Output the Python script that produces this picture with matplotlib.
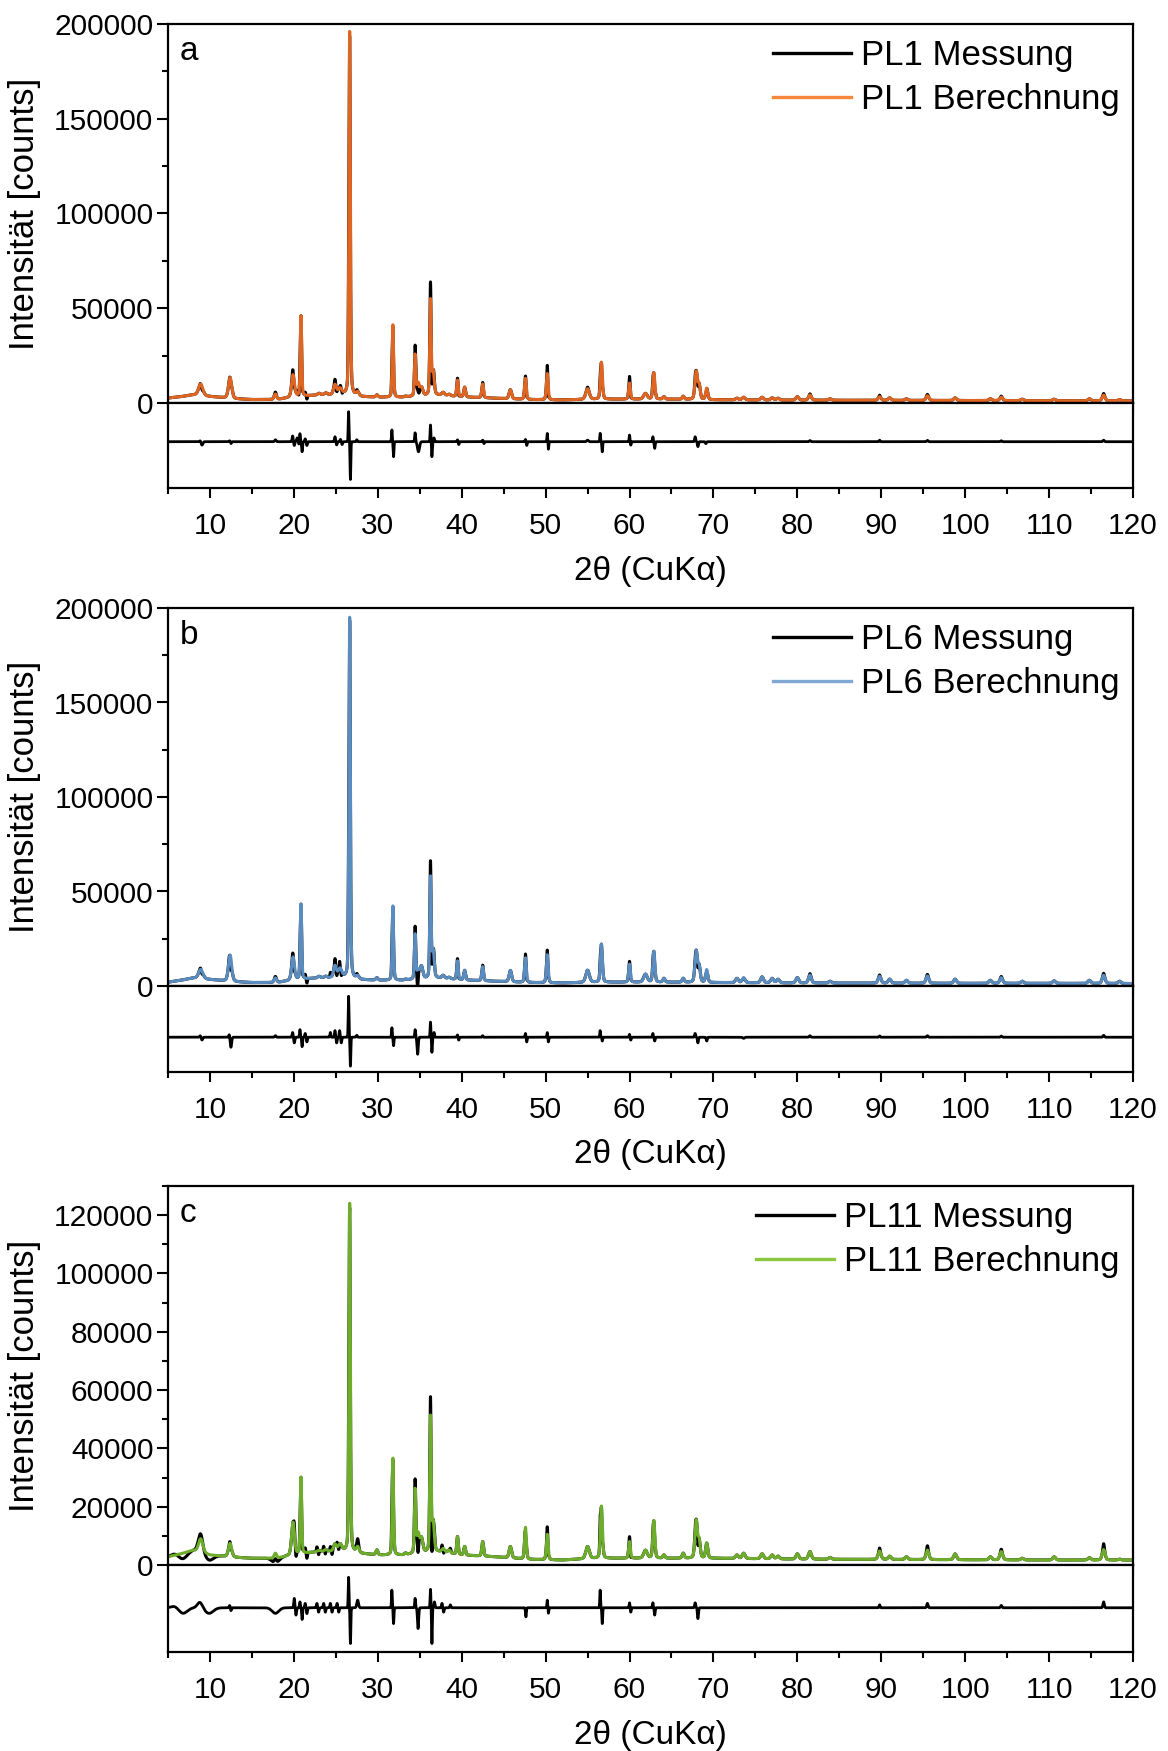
import numpy as np
import matplotlib.pyplot as plt
from matplotlib.lines import Line2D
from matplotlib.ticker import MultipleLocator

plt.rcParams['font.family'] = ['Liberation Sans', 'DejaVu Sans']
plt.rcParams['axes.linewidth'] = 1.6

# reflex positions (2theta) shared by all three samples, with FWHM
peak_pos = [8.9, 12.4, 17.8, 19.9, 20.85, 23.0, 23.8, 24.9, 25.5, 26.65,
            27.6, 29.9, 31.8, 33.3, 34.45, 34.8, 35.2, 36.28, 36.6, 37.8,
            38.5, 39.5, 40.35, 42.5, 45.8, 47.6, 50.2, 55.0, 56.65, 60.0,
            61.9, 62.9, 64.1, 66.4, 67.95, 68.3, 69.2, 72.8, 73.6, 75.8,
            77.0, 77.7, 80.0, 81.5, 83.9, 89.8, 91.0, 93.0, 95.5, 98.8,
            103.0, 104.3, 106.8, 110.6, 114.8, 116.5, 118.4]
peak_fwhm = [0.6, 0.45, 0.35, 0.4, 0.2, 0.4, 0.4, 0.4, 0.5, 0.2,
             0.4, 0.3, 0.2, 0.3, 0.2, 0.35, 0.4, 0.2, 0.3, 0.4,
             0.4, 0.22, 0.25, 0.25, 0.35, 0.25, 0.25, 0.5, 0.28, 0.25,
             0.5, 0.28, 0.3, 0.3, 0.35, 0.3, 0.3, 0.4, 0.4, 0.4,
             0.4, 0.4, 0.4, 0.4, 0.4, 0.4, 0.4, 0.4, 0.4, 0.4,
             0.4, 0.4, 0.4, 0.4, 0.4, 0.4, 0.4]

# calculated peak maxima (counts)
calc_pl1 = [10000, 13400, 4700, 14800, 45900, 5000, 5200, 9500, 7500, 196000,
            5500, 4200, 41200, 3500, 25000, 10000, 8000, 54000, 16000, 5500,
            4500, 12000, 8300, 10000, 7000, 13000, 15500, 7500, 21500, 10500,
            5000, 16000, 3300, 3500, 16500, 9000, 7700, 2500, 3000, 3000,
            2700, 2500, 3300, 4200, 2200, 3300, 2700, 2200, 3800, 2700,
            2200, 3100, 2000, 2000, 2200, 4200, 1800]
calc_pl6 = [8800, 16400, 4200, 15200, 43200, 5000, 5000, 10500, 9000, 195000,
            5000, 4300, 42300, 3500, 27000, 7600, 10200, 57000, 18100, 5500,
            4500, 13200, 8200, 10200, 8200, 14900, 16500, 8300, 22200, 11500,
            6200, 18300, 4000, 4000, 18300, 10000, 8500, 4000, 4400, 4800,
            4000, 3500, 4400, 5700, 2500, 5100, 3600, 3000, 5300, 3600,
            3000, 4400, 2500, 2700, 3000, 5700, 2500]
calc_pl11 = [9000, 7400, 4000, 14600, 30000, 5000, 5200, 7000, 7000, 124000,
             6000, 5100, 36600, 4000, 25500, 10300, 9000, 50500, 14300, 5500,
             5000, 9700, 6300, 8000, 6300, 12900, 10500, 6300, 20200, 8000,
             5000, 15200, 3400, 4000, 15200, 8000, 7400, 3400, 4000, 3800,
             3400, 3000, 3800, 4600, 2600, 4800, 3000, 2800, 5100, 3800,
             2800, 4600, 2300, 2800, 2500, 5300, 2000]

# background
bg_x = [5, 6.5, 8, 10, 13, 15, 18, 20, 23, 26, 28, 30, 33, 37, 40, 44, 48,
        52, 56, 60, 65, 70, 80, 90, 100, 110, 120]
bg_pl1 = [2600, 3300, 4300, 3400, 2200, 1800, 1800, 3200, 4200, 4300, 3300,
          3000, 3000, 4200, 3200, 2500, 1800, 1600, 2000, 2000, 2000, 1700,
          1500, 1400, 1300, 1200, 1100]
bg_pl6 = [2000, 3000, 4200, 3400, 2200, 1800, 1800, 3200, 4200, 4300, 3300,
          3000, 3000, 4200, 3200, 2500, 1800, 1600, 2000, 2000, 2000, 1800,
          1600, 1500, 1400, 1400, 1300]
bg_pl11 = [2800, 3800, 5000, 3400, 2600, 2300, 2300, 3500, 4600, 4600, 3900,
           3400, 3400, 4600, 3400, 2800, 1900, 1700, 2300, 2300, 2300, 2300,
           2000, 1900, 1800, 1700, 1700]

# difference (Messung - Berechnung) features: position, amplitude, width
diff_pos_pl1 = [8.85, 9.05, 12.35, 12.5, 17.8, 19.85, 20.05, 20.4, 20.6, 20.72,
                20.98, 21.35, 21.55, 24.9, 25.1, 25.55, 25.75, 26.52, 26.74, 27.5,
                31.68, 31.88, 34.45, 34.85, 36.28, 36.45, 36.7, 39.5, 39.65, 42.5,
                42.65, 47.6, 47.75, 50.2, 50.33, 55.0, 56.5, 56.75, 60.0, 60.15,
                62.78, 63.0, 67.82, 68.15, 69.1, 81.5, 89.8, 95.5, 104.3, 116.5]
diff_amp_pl1 = [600, -1800, 500, -1000, 1000, 3000, -2000, 2000, -1500, 4400,
                -5300, 1500, -2000, 2600, -1700, 1200, -1500, 15800, -19900, 1000,
                6200, -7900, 4700, -5300, 8800, -7900, 2000, 1000, -1500, 800,
                -1000, 1200, -2000, 4400, -4000, 800, 4400, -5300, 3500, -1800,
                2600, -3500, 2600, -2600, -1000, 600, 800, 700, 500, 800]
diff_w_pl1 = [.08, .1, .06, .06, .08, .06, .06, .08, .06, .05,
              .05, .06, .06, .06, .06, .06, .06, .045, .045, .06,
              .045, .045, .05, .12, .045, .05, .05, .05, .05, .05,
              .05, .05, .05, .045, .045, .1, .045, .045, .045, .05,
              .05, .05, .06, .06, .06, .08, .06, .08, .08, .08]

diff_pos_pl6 = [8.85, 9.05, 12.3, 12.5, 17.8, 19.85, 20.05, 20.72, 20.98, 21.35,
                21.55, 24.35, 24.9, 25.1, 25.45, 25.65, 26.52, 26.74, 27.5, 31.68,
                31.88, 34.45, 34.75, 36.28, 36.45, 36.7, 39.5, 39.65, 42.5, 47.6,
                47.75, 50.2, 50.33, 56.5, 56.75, 60.0, 60.15, 62.78, 63.0, 67.82,
                68.15, 69.2, 73.6, 81.5, 89.8, 95.5, 104.3, 116.5]
diff_amp_pl6 = [800, -1500, 1500, -5300, 800, 2500, -3000, 4000, -5000, 2000,
                -2500, 2500, 3500, -3000, 3500, -3000, 21700, -15300, 1000, 5000,
                -4500, 4000, -9000, 8000, -8000, 2500, 1200, -1500, 800, 2000,
                -2500, 2500, -2500, 3500, -2000, 1500, -1500, 2000, -2000, 2000,
                -3000, -2000, -600, 800, 700, 800, 600, 1000]
diff_w_pl6 = [.08, .08, .06, .08, .08, .06, .06, .05, .05, .06,
              .06, .05, .05, .06, .05, .06, .045, .045, .06, .045,
              .045, .05, .07, .045, .05, .05, .05, .05, .05, .05,
              .05, .045, .045, .045, .045, .045, .05, .05, .05, .06,
              .06, .06, .1, .08, .06, .08, .08, .08]

diff_pos_pl11 = [5.8, 6.8, 8.8, 9.9, 12.35, 12.5, 17.8, 20.05, 20.25, 20.72,
                 20.98, 21.35, 21.55, 22.75, 22.95, 23.55, 23.75, 24.35, 24.55, 25.15,
                 25.35, 26.52, 26.74, 27.6, 31.68, 31.88, 34.45, 34.8, 36.28, 36.45,
                 36.75, 37.65, 37.85, 38.65, 47.65, 50.2, 50.33, 56.5, 56.75, 60.0,
                 60.15, 62.78, 63.0, 67.82, 68.15, 89.8, 95.5, 104.3, 116.5]
diff_amp_pl11 = [600, -1900, 2000, -1900, 800, -1000, -1900, 3200, -2500, 2000,
                 -4000, 1500, -2000, 1500, -1500, 1500, -1500, 1500, -1500, 1500,
                 -1500, 10400, -12200, 2600, 6000, -5400, 3200, -7100, 6300, -12200,
                 2000, 1500, -1500, 1000, -3100, 2600, -1900, 6000, -5400, 1700,
                 -1500, 1700, -2500, 1700, -3700, 1000, 1500, 800, 2000]
diff_w_pl11 = [.4, .5, .3, .5, .06, .06, .4, .06, .06, .05,
               .05, .06, .06, .06, .06, .06, .06, .06, .06, .06,
               .06, .045, .045, .1, .045, .045, .05, .07, .045, .045,
               .06, .06, .06, .06, .05, .045, .045, .045, .045, .05,
               .05, .05, .05, .06, .06, .06, .08, .08, .08]

samples = ['PL1', 'PL6', 'PL11']
letters = ['a', 'b', 'c']
line_colors = ['#DF6522', '#5A8CBF', '#6EAD2B']
legend_colors = ['#F5873A', '#7FA8D4', '#8DC63F']
calc_heights = [calc_pl1, calc_pl6, calc_pl11]
backgrounds = [bg_pl1, bg_pl6, bg_pl11]
diffs = [(diff_pos_pl1, diff_amp_pl1, diff_w_pl1),
         (diff_pos_pl6, diff_amp_pl6, diff_w_pl6),
         (diff_pos_pl11, diff_amp_pl11, diff_w_pl11)]
y_max = [200000, 200000, 130000]
y_major = [50000, 50000, 20000]
y_minor = [25000, 25000, 10000]
diff_lim = [(-24400, 20400), (-18400, 27100), (-15100, 14600)]

# layout in pixels of the 1168x1751 figure: (main top, zero line, lower bottom)
rows_px = [(24, 403, 488), (608, 986, 1072), (1186, 1565, 1652)]
W, H = 1168, 1751
left_px, right_px = 168, 1133

two_theta = np.arange(5, 120.0001, 0.01)


def pattern(x, heights, bg_y):
    bg = np.interp(x, bg_x, bg_y)
    y = bg.copy()
    for c, h, w in zip(peak_pos, heights, peak_fwhm):
        net = max(h - np.interp(c, bg_x, bg_y), 0)
        d = (x - c) / w
        y += net * (0.3 / (1 + 4 * d ** 2) + 0.7 * np.exp(-4 * np.log(2) * d ** 2))
    return y


def difference(x, pos, amp, wid):
    r = np.zeros_like(x)
    for p, a, s in zip(pos, amp, wid):
        r += a * np.exp(-0.5 * ((x - p) / s) ** 2)
    return r


fig = plt.figure(figsize=(W / 100, H / 100), dpi=100)

for i in range(3):
    top, zero, bottom = rows_px[i]
    l = left_px / W
    w = (right_px - left_px) / W
    ax = fig.add_axes([l, 1 - zero / H, w, (zero - top) / H])
    axd = fig.add_axes([l, 1 - bottom / H, w, (bottom - zero) / H], sharex=ax)

    calc = pattern(two_theta, calc_heights[i], backgrounds[i])
    diff = difference(two_theta, *diffs[i])
    meas = calc + diff

    ax.plot(two_theta, meas, color='black', lw=2.2)
    ax.plot(two_theta, calc, color=line_colors[i], lw=2.2)
    axd.plot(two_theta, diff, color='black', lw=2.0)

    ax.set_xlim(5, 120)
    ax.set_ylim(0, y_max[i])
    axd.set_ylim(*diff_lim[i])

    ax.yaxis.set_major_locator(MultipleLocator(y_major[i]))
    ax.yaxis.set_minor_locator(MultipleLocator(y_minor[i]))
    ax.xaxis.set_major_locator(MultipleLocator(10))
    ax.xaxis.set_minor_locator(MultipleLocator(5))
    ax.tick_params(axis='y', which='major', direction='out', length=8, width=1.5,
                   labelsize=21.5, pad=2.5)
    ax.tick_params(axis='y', which='minor', direction='out', length=4, width=1.5)
    ax.tick_params(axis='x', which='major', direction='out', length=7, width=1.5,
                   labelbottom=False)
    ax.tick_params(axis='x', which='minor', direction='out', length=4, width=1.5)
    axd.tick_params(axis='x', which='major', direction='out', length=7, width=1.5,
                    labelsize=21.5, pad=10)
    axd.tick_params(axis='x', which='minor', direction='out', length=4, width=1.5)
    axd.set_yticks([])

    ax.text(0.012, 0.905, letters[i], transform=ax.transAxes, fontsize=24,
            va='baseline', ha='left')

    handles = [Line2D([], [], color='black', lw=2.4),
               Line2D([], [], color=legend_colors[i], lw=2.4)]
    ax.legend(handles, [samples[i] + ' Messung', samples[i] + ' Berechnung'],
              loc='upper right', bbox_to_anchor=(0.9865, 0.961), frameon=False,
              fontsize=25, handlelength=2.25, handletextpad=0.3,
              labelspacing=0.33, borderpad=0, borderaxespad=0)

    fig.text(25 / W, 1 - (top + zero) / 2 / H, 'Intensität [counts]',
             rotation=90, fontsize=25, ha='center', va='center')
    fig.text((left_px + right_px) / 2 / W, 1 - (bottom + 83) / H,
             '2θ (CuKα)', fontsize=24, ha='center', va='center')

fig.savefig('out.png', dpi=100)
